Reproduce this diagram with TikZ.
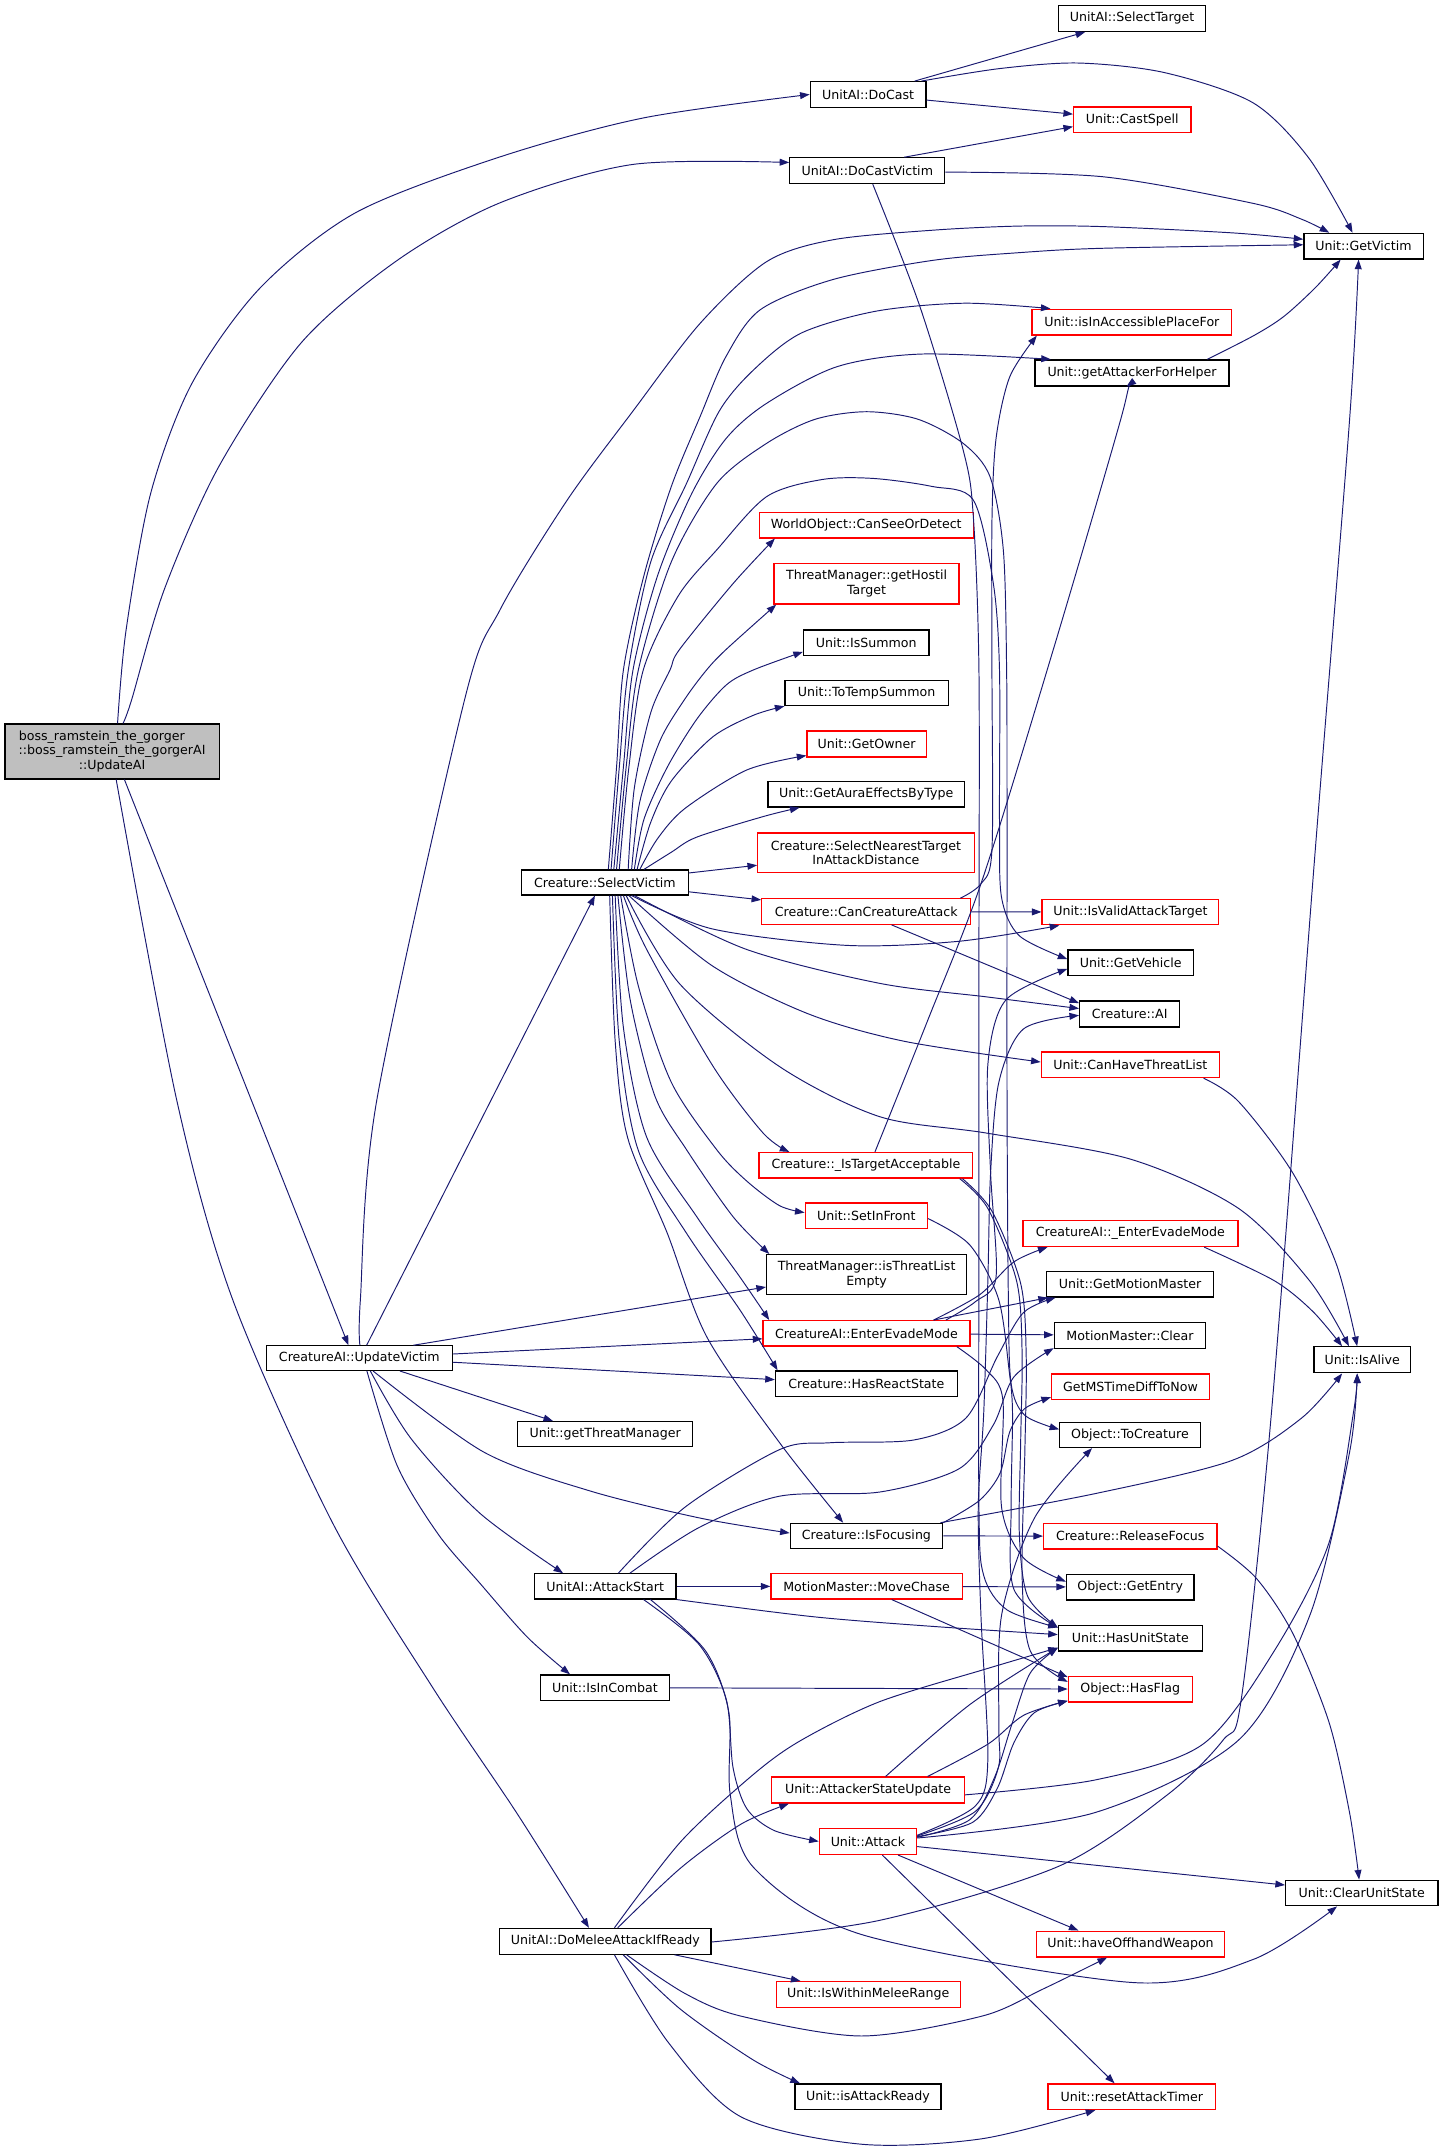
\documentclass[tikz,border=0pt]{standalone}
\usepackage{fontspec}
\setmainfont{DejaVu Sans}
\usetikzlibrary{arrows.meta}
\definecolor{edgec}{RGB}{25,25,112}
\definecolor{redc}{RGB}{255,0,0}
\definecolor{grayc}{RGB}{191,191,191}
\newcommand{\bx}[7]{%
  \pgfmathsetmacro{\bxcx}{(#3+#4)/2}%
  \pgfmathsetmacro{\bxcy}{(#5+#6)/2}%
  \pgfmathsetmacro{\bxw}{#4-#3}%
  \pgfmathsetmacro{\bxh}{#6-#5}%
  \node[#1, minimum width=\bxw pt, minimum height=\bxh pt] (#2) at (\bxcx,\bxcy) {#7};%
}
\begin{document}
\begin{tikzpicture}[x=1pt,y=-1pt,
  box/.style={draw=black,fill=white,line width=0.9pt,inner sep=0pt,align=center,font=\fontsize{9.2}{10.8}\selectfont},
  rbox/.style={box,draw=redc},
  gbox/.style={box,fill=grayc},
  edg/.style={draw=edgec,line width=0.7pt,-{Triangle[length=7pt,width=5pt]}}]
\useasboundingbox (0,0) rectangle (1051,1568.5);

% ---------- nodes ----------
\bx{gbox}{ua}{3.6}{160}{528.4}{568.5}{boss\_ramstein\_the\_gorger\hspace*{15pt}\\::boss\_ramstein\_the\_gorgerAI\\::UpdateAI}
\bx{box}{st}{772.5}{880}{4.1}{22.9}{UnitAI::SelectTarget}
\bx{box}{dc}{591.4}{675.8}{59.6}{78.3}{UnitAI::DoCast}
\bx{rbox}{cs}{783.6}{869.2}{78.1}{96.8}{Unit::CastSpell}
\bx{box}{dcv}{576.5}{689.5}{115.2}{134}{UnitAI::DoCastVictim}
\bx{box}{gv}{951.7}{1038.7}{170.3}{189}{Unit::GetVictim}
\bx{rbox}{iap}{753.2}{899}{225.7}{244.5}{Unit::isInAccessiblePlaceFor}
\bx{box}{gafh}{755.4}{897}{262.7}{281.7}{Unit::getAttackerForHelper}
\bx{rbox}{csod}{554.2}{710.3}{374.2}{392.6}{WorldObject::CanSeeOrDetect}
\bx{rbox}{ght}{565}{700}{411.4}{440.8}{ThreatManager::getHostil\\Target}
\bx{box}{isum}{586.5}{678}{459.8}{478.3}{Unit::IsSummon}
\bx{box}{tts}{573}{692}{496.8}{515}{Unit::ToTempSummon}
\bx{rbox}{gown}{589}{676}{533.5}{552.5}{Unit::GetOwner}
\bx{box}{gaet}{560.5}{704}{570.5}{589}{Unit::GetAuraEffectsByType}
\bx{rbox}{snt}{553}{711}{608}{637}{Creature::SelectNearestTarget\\InAttackDistance}
\bx{box}{sv}{380.7}{502.3}{635}{653.2}{Creature::SelectVictim}
\bx{rbox}{cca}{556}{708.5}{656}{674.6}{Creature::CanCreatureAttack}
\bx{rbox}{ivat}{760.6}{889.6}{656.5}{675}{Unit::IsValidAttackTarget}
\bx{box}{gveh}{779.5}{871}{693.3}{712}{Unit::GetVehicle}
\bx{box}{cai}{788}{861}{730.6}{749.6}{Creature::AI}
\bx{rbox}{chtl}{760}{890}{767.8}{786.5}{Unit::CanHaveThreatList}
\bx{rbox}{ita}{554}{710}{841.2}{859.8}{Creature::\_IsTargetAcceptable}
\bx{rbox}{sif}{587.7}{676.8}{878}{896.7}{Unit::SetInFront}
\bx{rbox}{ueem}{746.6}{903.5}{891}{909.8}{CreatureAI::\_EnterEvadeMode}
\bx{box}{itle}{559.5}{705.5}{915.7}{945}{ThreatManager::isThreatList\\Empty}
\bx{box}{gmm}{763.8}{885.8}{928}{946.7}{Unit::GetMotionMaster}
\bx{rbox}{eem}{556.9}{707.9}{963.9}{982.4}{CreatureAI::EnterEvadeMode}
\bx{box}{mmc}{769.5}{880}{965.4}{984}{MotionMaster::Clear}
\bx{box}{alive}{959}{1029.5}{983}{1002}{Unit::IsAlive}
\bx{box}{uv}{194.6}{330}{982.3}{1000.2}{CreatureAI::UpdateVictim}
\bx{box}{hrs}{566}{698.7}{1000.6}{1019.3}{Creature::HasReactState}
\bx{rbox}{gms}{767.5}{882.7}{1002.8}{1021.3}{GetMSTimeDiffToNow}
\bx{box}{gtm}{377.8}{505.5}{1037.6}{1056}{Unit::getThreatManager}
\bx{box}{otc}{773.5}{876}{1038}{1056.5}{Object::ToCreature}
\bx{box}{ifoc}{576.8}{688}{1111.8}{1130}{Creature::IsFocusing}
\bx{rbox}{rf}{761.7}{888.2}{1112}{1130.5}{Creature::ReleaseFocus}
\bx{box}{ast}{390}{493.4}{1148.7}{1167}{UnitAI::AttackStart}
\bx{rbox}{mc}{562.7}{702.3}{1148.7}{1167}{MotionMaster::MoveChase}
\bx{box}{ge}{778.4}{871.4}{1149}{1167.7}{Object::GetEntry}
\bx{box}{hus}{772.5}{877.5}{1186.3}{1205}{Unit::HasUnitState}
\bx{box}{iic}{394.6}{488.5}{1222.5}{1241}{Unit::IsInCombat}
\bx{rbox}{hf}{779.7}{870.2}{1223.5}{1242.3}{Object::HasFlag}
\bx{rbox}{asu}{563.2}{704}{1297}{1316}{Unit::AttackerStateUpdate}
\bx{rbox}{atk}{598}{669}{1334.5}{1353.5}{Unit::Attack}
\bx{box}{cus}{938.3}{1049.5}{1372.3}{1391}{Unit::ClearUnitState}
\bx{box}{dmair}{364.7}{519}{1407.5}{1426.3}{UnitAI::DoMeleeAttackIfReady}
\bx{rbox}{how}{756.5}{893.8}{1409.5}{1428.3}{Unit::haveOffhandWeapon}
\bx{rbox}{iwmr}{566.7}{700.8}{1446.3}{1465}{Unit::IsWithinMeleeRange}
\bx{box}{iar}{580.3}{686.8}{1521}{1539.7}{Unit::isAttackReady}
\bx{rbox}{rat}{764.9}{887.3}{1521}{1539.7}{Unit::resetAttackTimer}

% ---------- edges ----------
% UpdateAI
\draw[edg] plot[smooth] coordinates {([xshift=4pt]ua.north) (92,460) (110,360) (140,280) (190,210) (260,155) (365,114.5) (470,86) (dc.west)};
\draw[edg] plot[smooth] coordinates {([xshift=8pt]ua.north) (96,511) (120,430) (160,340) (220,250) (290,190) (365,148) (462,120) ([yshift=6pt]dcv.west)};
\draw[edg] ([xshift=9pt]ua.south) -- ([xshift=-8pt]uv.north);
\draw[edg] plot[smooth] coordinates {([xshift=3pt]ua.south) (129,803) (170,949) (243,1112) (316,1232) (377,1323) ([xshift=-12pt]dmair.north)};

% DoCast / DoCastVictim
\draw[edg] (dc) -- (st);
\draw[edg] (dc) -- (cs);
\draw[edg] plot[smooth] coordinates {([xshift=39pt]dc.north) (730,50) (787,46) (850,53) (914.5,75) (955,115) ([xshift=-8pt]gv.north)};
\draw[edg] ([xshift=27pt]dcv.north) -- ([yshift=-5pt]cs.west);
\draw[edg] plot[smooth] coordinates {([yshift=-1pt]dcv.east) (805,129) (914.5,148.4) (950,160) ([xshift=-25pt]gv.north)};
\draw[edg] plot[smooth] coordinates {([xshift=4pt]dcv.south) (671.5,224) (703,328.5) (710.4,377) (714.5,489) (714.5,700) (714.5,900) (714.5,1100) (718,1150) (735,1175) ([yshift=-2pt]hus.north west)};
\draw[edg] plot[smooth] coordinates {([xshift=55pt]gafh.north) (915,245) (937,231) (960,210) ([xshift=-16.7pt]gv.south)};

% UpdateVictim
\draw[edg] plot[smooth] coordinates {([xshift=0.4pt]uv.north) (263,949) (275,803) (339,511) (365,445) (414,365) (462,300) (511,236) (559.5,191) (608,175) (681,168) (744,165) (805,165.4) (900,170) ([yshift=5pt]gv.west)};
\draw[edg] ([xshift=5.3pt]uv.north) -- ([xshift=-7.3pt]sv.south);
\draw[edg] ([xshift=39.4pt]uv.north) -- ([yshift=-9pt]itle.west);
\draw[edg] ([yshift=3pt]uv.east) -- ([yshift=-4pt]eem.west);
\draw[edg] ([yshift=-3pt]uv.east) -- ([yshift=3pt]hrs.west);
\draw[edg] ([xshift=29.6pt]uv.south) -- ([xshift=-38pt]gtm.north);
\draw[edg] plot[smooth] coordinates {([xshift=10pt]uv.south) (352.7,1059.6) (430,1088) (511,1108) ([yshift=2pt]ifoc.west)};
\draw[edg] plot[smooth] coordinates {([xshift=8pt]uv.south) (300,1050) (350.3,1104.5) ([xshift=-30.7pt]ast.north)};
\draw[edg] plot[smooth] coordinates {([xshift=5.5pt]uv.south) (290,1070) (320,1120) (350.3,1155.6) (385,1195) ([xshift=-25.5pt]iic.north)};

% SelectVictim upward fan
\draw[edg] plot[smooth] coordinates {([xshift=2.5pt]sv.north) (450,560) (455,489) (470,420) (490,355) (511,304) (530,260) (555,226) (608,204) (681,190) (744,184.4) (805,181.2) ([yshift=1pt]gv.west)};
\draw[edg] plot[smooth] coordinates {([xshift=4.5pt]sv.north) (452,560) (458.6,489) (475,410) (501,353) (525,300) (550,270) (585,243) (640,227) (704,221.3) ([xshift=14pt]iap.north west)};
\draw[edg] plot[smooth] coordinates {([xshift=6.5pt]sv.north) (455,560) (462,489) (480,420) (505,360) (530,320) (559.5,294.4) (611,267.6) (672.7,258.4) ([xshift=12pt]gafh.north west)};
\draw[edg] plot[smooth] coordinates {([xshift=8.5pt]sv.north) (457,560) (465.9,489) (490,410) (523,353) (559.5,323.6) (595,306) (632.5,300.5) (670,306) (703,323.6) (722.6,348) (732.3,401.5) (734.7,489) (735,600) (735,800) (736,950) (738,1010) (748,1033) ([yshift=4pt]otc.west)};
\draw[edg] plot[smooth] coordinates {([xshift=10.5pt]sv.north) (459,560) (469.5,489) (495,435) (523,401.5) (559.5,362.5) (600,350) (637.4,349.2) (680,355) (710.4,365) (725,425.8) (729.5,489) (729.5,600) (731,655) (744,683) ([yshift=2.6pt]gveh.west)};
\draw[edg] plot[smooth] coordinates {([xshift=17pt]sv.north) (463,575) (475,520) (489,489) (496,474) (535,426) ([xshift=11.8pt]csod.south west)};
\draw[edg] plot[smooth] coordinates {([xshift=19.5pt]sv.north) (467,585) (482,540) (500,510) (515.7,489) (530,474) ([xshift=2pt]ght.south west)};
\draw[edg] plot[smooth] coordinates {([xshift=21.5pt]sv.north) (470,598) (487,560) (508.5,525) (530,500) (549.8,489) ([yshift=3pt]isum.south west)};
\draw[edg] plot[smooth] coordinates {([xshift=23.5pt]sv.north) (475,600) (490,570) (520,538) (550,522) (tts.south west)};
\draw[edg] plot[smooth] coordinates {([xshift=25.5pt]sv.north) (480,612) (500,590) (545,562) ([yshift=1.5pt]gown.south west)};
\draw[edg] plot[smooth] coordinates {([xshift=28.5pt]sv.north) (490,622) (508.5,611) (557,596) ([xshift=23.5pt]gaet.south west)};
\draw[edg] (sv) -- (snt);
\draw[edg] (sv) -- (cca);

% SelectVictim right / downward fan
\draw[edg] plot[smooth] coordinates {([xshift=19.5pt]sv.south) (520,678) (618,690) (700,687) ([xshift=13pt]ivat.south west)};
\draw[edg] plot[smooth] coordinates {([xshift=21.5pt]sv.south) (545,693) (642,717.7) (721,727.7) ([yshift=4pt]cai.west)};
\draw[edg] plot[smooth] coordinates {([xshift=17.5pt]sv.south) (520,705) (590,740) (660,760) ([yshift=2pt]chtl.west)};
\draw[edg] plot[smooth] coordinates {([xshift=15.5pt]sv.south) (496,718) (569,778.5) (642,815) (720,827) (825,846) (904,882) (956,935) ([xshift=26pt]alive.north west)};
\draw[edg] plot[smooth] coordinates {([xshift=13.5pt]sv.south) (472,693) (520.6,778.5) (557,827) ([xshift=22.6pt]ita.north west)};
\draw[edg] plot[smooth] coordinates {([xshift=11.5pt]sv.south) (466,720) (490,790) (523,839) (545,862) (569,880) ([yshift=2.35pt]sif.west)};
\draw[edg] plot[smooth] coordinates {([xshift=9.5pt]sv.south) (460,730) (478,800) (501,839) (535,888) ([xshift=2.5pt]itle.north west)};
\draw[edg] plot[smooth] coordinates {([xshift=7.5pt]sv.south) (455,750) (472,830) (508.5,888) (540,932) ([xshift=5pt]eem.north west)};
\draw[edg] plot[smooth] coordinates {([xshift=5.5pt]sv.south) (452,760) (466,840) (501,900) (540,956) ([xshift=2pt]hrs.north west)};
\draw[edg] plot[smooth] coordinates {([xshift=3.5pt]sv.south) (449,760) (458,830) (487,900) (516,976) (569,1053) ([xshift=-17pt]ifoc.north)};

% CanCreatureAttack, _IsTargetAcceptable, SetInFront
\draw[edg] (cca) -- (ivat);
\draw[edg] plot[smooth] coordinates {([xshift=-8pt]cca.north east) (716,645) (724,620) (724,489) (724,380) (727,320) (737,275) ([xshift=4pt]iap.south west)};
\draw[edg] ([xshift=18.5pt]cca.south) -- ([yshift=-2pt]cai.north west);
\draw[edg] plot[smooth] coordinates {([xshift=6.6pt]ita.north) (677,745) (717,642) (770,470) (818,306) ([xshift=-4pt]gafh.south)};
\draw[edg] plot[smooth] coordinates {([xshift=-10pt]ita.south east) (721,882) (742,935) (746,987) (745,1050) (744,1120) (750,1165) ([yshift=-2pt]hus.north west)};
\draw[edg] plot[smooth] coordinates {([xshift=-8pt]ita.south east) (724,884) (745,937) (749,990) (748,1060) (746,1150) (752,1205) ([yshift=-4.5pt]hf.north west)};
\draw[edg] plot[smooth] coordinates {([yshift=-2pt]sif.east) (707.7,908.5) (728.7,947.8) (736.5,1000) (739,1031) (738,1100) (740,1160) ([yshift=-2pt]hus.north west)};

% EnterEvadeMode
\draw[edg] (eem) -- (mmc);
\draw[edg] plot[smooth] coordinates {([xshift=49pt]eem.north) (715,945) (740,921) ([xshift=18.4pt]ueem.south west)};
\draw[edg] ([xshift=49pt]eem.north) -- ([xshift=1.5pt]gmm.south west);
\draw[edg] plot[smooth] coordinates {([xshift=58pt]eem.north) (712,950) (727,932) (723,856) (721,777) (734,730) ([yshift=-4.5pt]gveh.west)};
\draw[edg] plot[smooth] coordinates {([xshift=-10pt]eem.south east) (720,1000) (732,1022) (731,1100) (747,1137) ([yshift=4pt]ge.west)};

% AttackStart
\draw[edg] (ast) -- (mc);
\draw[edg] plot[smooth] coordinates {(ast.south east) (593.6,1180) (680,1187) ([yshift=2.6pt]hus.west)};
\draw[edg] plot[smooth] coordinates {([xshift=9.6pt]ast.north) (500,1100) (569,1058) (606,1053) (667,1051) (705,1035) (728,990) (747,958) ([xshift=7pt]gmm.south west)};
\draw[edg] plot[smooth] coordinates {([xshift=18pt]ast.north) (510,1115) (569,1092) (642,1089) (700,1072) (725,1040) (740,1005) ([yshift=0.5pt]mmc.south west)};
\draw[edg] plot[smooth] coordinates {([xshift=28pt]ast.south) (510,1200) (530,1240) (535,1290) (545,1320) (565,1336) (atk.west)};
\draw[edg] plot[smooth] coordinates {([xshift=33pt]ast.south) (515,1205) (532,1250) (533,1310) (550,1363) (629,1412) (827,1447) (915,1430) ([xshift=38pt]cus.south west)};

% IsFocusing, ReleaseFocus, MoveChase, IsInCombat
\draw[edg] (ifoc) -- (rf);
\draw[edg] plot[smooth] coordinates {([xshift=-2pt]ifoc.north east) (800,1090) (899,1066) (950,1035) ([xshift=21pt]alive.south west)};
\draw[edg] plot[smooth] coordinates {(ifoc.north east) (715,1095) (730,1075) (737,1045) (748,1028) ([yshift=2pt]gms.south west)};
\draw[edg] plot[smooth] coordinates {([yshift=2.5pt]rf.south east) (917,1152) (943.5,1192) (970,1257) (985,1323) ([xshift=-1.9pt]cus.north)};
\draw[edg] (mc) -- (ge);
\draw[edg] ([xshift=18.3pt]mc.south) -- ([yshift=-1pt]hf.north west);
\draw[edg] (iic) -- (hf);

% DoMeleeAttackIfReady
\draw[edg] plot[smooth] coordinates {([xshift=6.6pt]dmair.north) (497,1344) (550,1295) (585,1270) (642,1242) (720,1218) ([yshift=-7pt]hus.west)};
\draw[edg] plot[smooth] coordinates {([xshift=9pt]dmair.north) (496.8,1363.4) (540.8,1331.4) ([xshift=13pt]asu.south west)};
\draw[edg] plot[smooth] coordinates {([yshift=-0.5pt]dmair.east) (642,1401.6) (773,1362) (852,1310) (892.7,1270) (906,1240) (928,1031) (960,620) (985,306.5) ([xshift=-3.6pt]gv.south)};
\draw[edg] ([xshift=50.5pt]dmair.south) -- ([xshift=18pt]iwmr.north west);
\draw[edg] plot[smooth] coordinates {([xshift=15.5pt]dmair.south) (500,1455) (540.8,1471.5) (628.8,1486) (716.7,1471.5) (760.7,1452) ([xshift=52pt]how.south west)};
\draw[edg] plot[smooth] coordinates {([xshift=13pt]dmair.south) (496.8,1466.6) (549.6,1503.4) ([xshift=4pt]iar.north west)};
\draw[edg] plot[smooth] coordinates {([xshift=6.6pt]dmair.south) (488,1491) (540.8,1545) (628.8,1565) (716.7,1561) ([xshift=35pt]rat.south west)};

% AttackerStateUpdate
\draw[edg] plot[smooth] coordinates {([xshift=12.8pt]asu.north) (708,1244) ([yshift=-7pt]hus.west)};
\draw[edg] plot[smooth] coordinates {([xshift=43.5pt]asu.north) (721,1273) (747,1252) ([yshift=-8.5pt]hf.west)};
\draw[edg] plot[smooth] coordinates {([yshift=-3.5pt]asu.east) (800,1299) (878,1273) (930,1205) (970,1126) (988,1030) ([xshift=32pt]alive.south west)};

% Attack
\draw[edg] (atk) -- (cus);
\draw[edg] ([xshift=22pt]atk.south) -- ([xshift=-38pt]how.north);
\draw[edg] ([xshift=10.5pt]atk.south) -- ([xshift=-12.6pt]rat.north);
\draw[edg] plot[smooth] coordinates {([yshift=2.5pt]atk.east) (799,1323) (904,1270) (956,1179) (985,1060) ([xshift=32pt]alive.south west)};
\draw[edg] plot[smooth] coordinates {([yshift=3pt]atk.east) (708,1328) (726,1297) (739,1257) (752,1221) ([yshift=-7pt]hus.west)};
\draw[edg] plot[smooth] coordinates {([yshift=3.5pt]atk.east) (710,1330) (728,1305) (740,1272) (755,1250) ([yshift=-8.5pt]hf.west)};
\draw[edg] plot[smooth] coordinates {([yshift=4pt]atk.east) (712,1322) (728.7,1290) (729,1258) (731,1179) (755,1108) ([xshift=24pt]otc.south west)};
\draw[edg] plot[smooth] coordinates {([yshift=4.5pt]atk.east) (712,1318) (721,1284) (716,1180) (714,1100) (718,1031) (721,935) (723,856) (729,790) (747,751) ([yshift=-1pt]cai.west)};

% CanHaveThreatList, _EnterEvadeMode
\draw[edg] plot[smooth] coordinates {([xshift=-12pt]chtl.south east) (904,804) (943.5,856) (975,921.6) ([xshift=32pt]alive.north west)};
\draw[edg] plot[smooth] coordinates {([xshift=-25pt]ueem.south east) (930,934.7) (958,957) ([xshift=21pt]alive.north west)};

\end{tikzpicture}
\end{document}
